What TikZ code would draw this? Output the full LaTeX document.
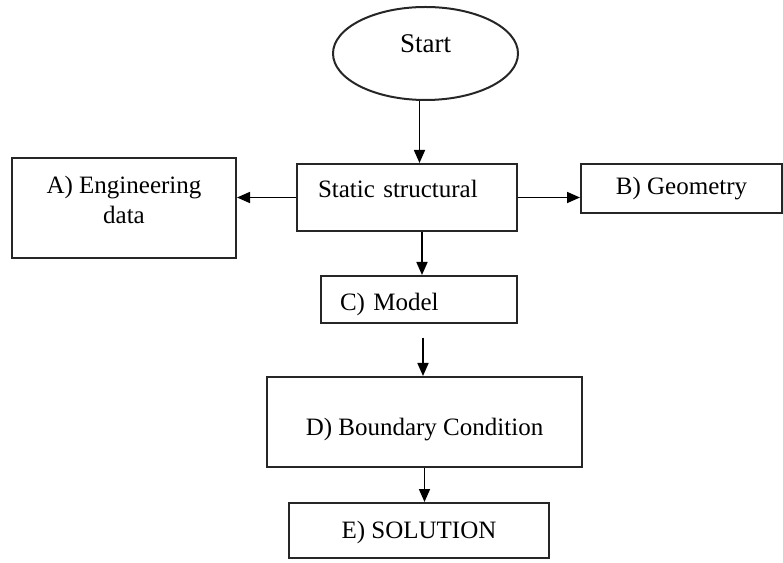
\documentclass[tikz,border=0pt]{standalone}
\usepackage{fontspec}
\setmainfont{Liberation Serif}
\usetikzlibrary{positioning,shapes.geometric,arrows.meta}

\begin{document}
\begin{tikzpicture}[x=1pt, y=1pt, node distance=50pt,
                    box/.style={rectangle,draw=black!85,line width=2pt,inner sep=0pt,
                                font=\fontsize{25}{30}\selectfont},
                    flow/.style={-{Triangle[length=13pt,width=11pt]},line width=1.7pt}]

  \useasboundingbox (0,0) rectangle (783,562);

  \node[box,minimum width=220pt,minimum height=67pt,text depth=18pt,align=left,text width=178pt] (static) at (407,364.5) {Static structural};
  \node[box,ellipse,minimum width=185pt,minimum height=93pt,text depth=20pt,font=\fontsize{27}{30}\selectfont] (start) [above=62pt of static,xshift=18.5pt] {Start};
  \node[box,minimum width=224pt,minimum height=100pt,align=center,text depth=16pt] (engdata) [left=59pt of static,yshift=-10.5pt] {A) Engineering\\data};
  \node[box,minimum width=201pt,minimum height=49pt] (geometry) [right=62pt of static,yshift=9pt] {B) Geometry};
  \node[box,minimum width=196pt,minimum height=47pt,text height=28pt,align=left,text width=158pt] (model) [below=43pt of static,xshift=12pt] {C) Model};
  \node[box,minimum width=315pt,minimum height=90pt,text height=33pt] (boundary) [below=52pt of model,xshift=5.5pt] {D) Boundary Condition};
  \node[box,minimum width=260pt,minimum height=55pt,text height=22pt] (solution) [below=34pt of boundary,xshift=-5.5pt] {E) SOLUTION};

  \draw[flow] ([xshift=-6pt]start.south) -- ([xshift=-6pt]start.south |- static.north);
  \draw[flow] (static.west) -- (static.west -| engdata.east);
  \draw[flow] (static.east) -- (static.east -| geometry.west);
  \draw[flow] ([xshift=3pt]model.north |- static.south) -- ([xshift=3pt]model.north);
  \draw[flow,shorten <=14pt] ([xshift=4pt]model.south) -- ([xshift=4pt]model.south |- boundary.north);
  \draw[flow] (boundary.south) -- (boundary.south |- solution.north);

\end{tikzpicture}
\end{document}
